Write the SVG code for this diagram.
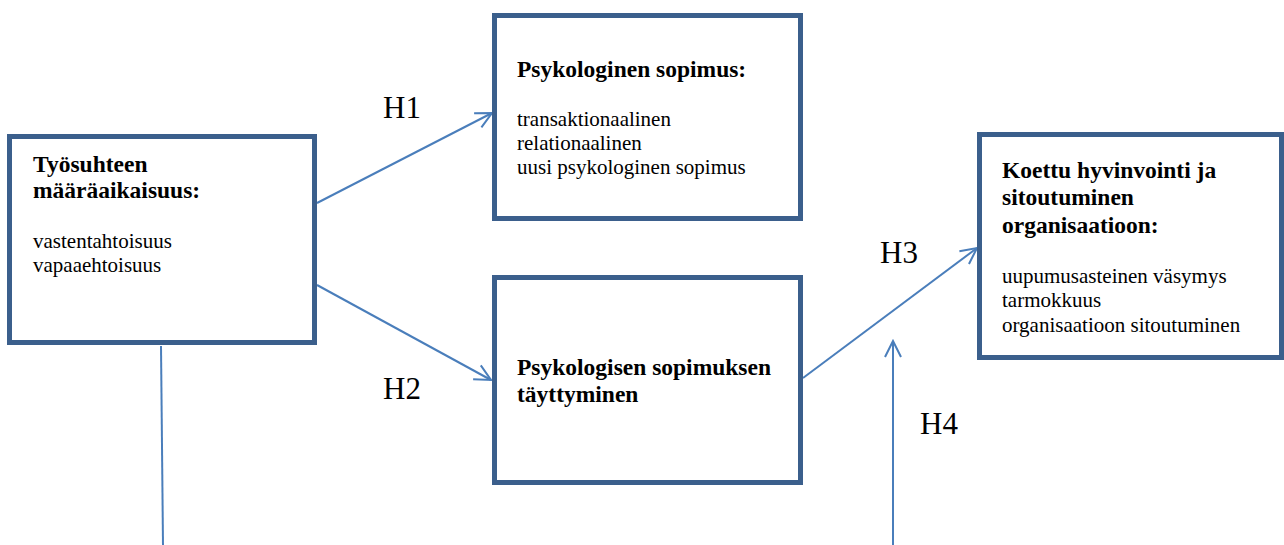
<svg xmlns="http://www.w3.org/2000/svg" width="1284" height="545" viewBox="0 0 1284 545">
<style>
.box{fill:#fff;stroke:#3b5f8c;stroke-width:5}
.b{font-family:"Liberation Serif","Times New Roman",serif;font-weight:bold;font-size:23.5px;fill:#000}
.n{font-family:"Liberation Serif","Times New Roman",serif;font-size:21px;fill:#000}
.h{font-family:"Liberation Serif","Times New Roman",serif;font-size:31px;fill:#000}
.c{stroke:#4a7ebb;stroke-width:2;fill:none}
</style>
<defs>
<marker id="ah" viewBox="0 0 20 20" refX="18" refY="10" markerWidth="20" markerHeight="20" markerUnits="userSpaceOnUse" orient="auto">
<path d="M2,2 L18,10 L2,18" fill="none" stroke="#4a7ebb" stroke-width="2"/>
</marker>
</defs>
<g id="connectors">
<line class="c" x1="317" y1="203" x2="492" y2="113" marker-end="url(#ah)"/>
<line class="c" x1="317" y1="285" x2="491" y2="380" marker-end="url(#ah)"/>
<line class="c" x1="803" y1="378" x2="977" y2="248" marker-end="url(#ah)"/>
<line class="c" x1="893" y1="545" x2="893" y2="341" marker-end="url(#ah)"/>
<line class="c" x1="161" y1="346" x2="163" y2="545"/>
</g>
<g id="labels">
<text class="h" x="383" y="118">H1</text>
<text class="h" x="383" y="399">H2</text>
<text class="h" x="880" y="263">H3</text>
<text class="h" x="920" y="434">H4</text>
</g>
<g id="node-tyosuhde">
<rect class="box" x="9.5" y="136.5" width="305" height="206"/>
<text class="b" x="33" y="172">Työsuhteen</text>
<text class="b" x="33" y="198">määräaikaisuus:</text>
<text class="n" x="33" y="248">vastentahtoisuus</text>
<text class="n" x="33" y="272">vapaaehtoisuus</text>
</g>
<g id="node-sopimus">
<rect class="box" x="494.5" y="15.5" width="306" height="203"/>
<text class="b" x="517" y="77">Psykologinen sopimus:</text>
<text class="n" x="517" y="126">transaktionaalinen</text>
<text class="n" x="517" y="150">relationaalinen</text>
<text class="n" x="517" y="174">uusi psykologinen sopimus</text>
</g>
<g id="node-tayttyminen">
<rect class="box" x="494.5" y="277.5" width="306" height="205"/>
<text class="b" x="517" y="375">Psykologisen sopimuksen</text>
<text class="b" x="517" y="402">täyttyminen</text>
</g>
<g id="node-hyvinvointi">
<rect class="box" x="979.5" y="134.5" width="302" height="223"/>
<text class="b" x="1002" y="178">Koettu hyvinvointi ja</text>
<text class="b" x="1002" y="205">sitoutuminen</text>
<text class="b" x="1002" y="233">organisaatioon:</text>
<text class="n" x="1002" y="283">uupumusasteinen väsymys</text>
<text class="n" x="1002" y="307">tarmokkuus</text>
<text class="n" x="1002" y="332">organisaatioon sitoutuminen</text>
</g>
</svg>
